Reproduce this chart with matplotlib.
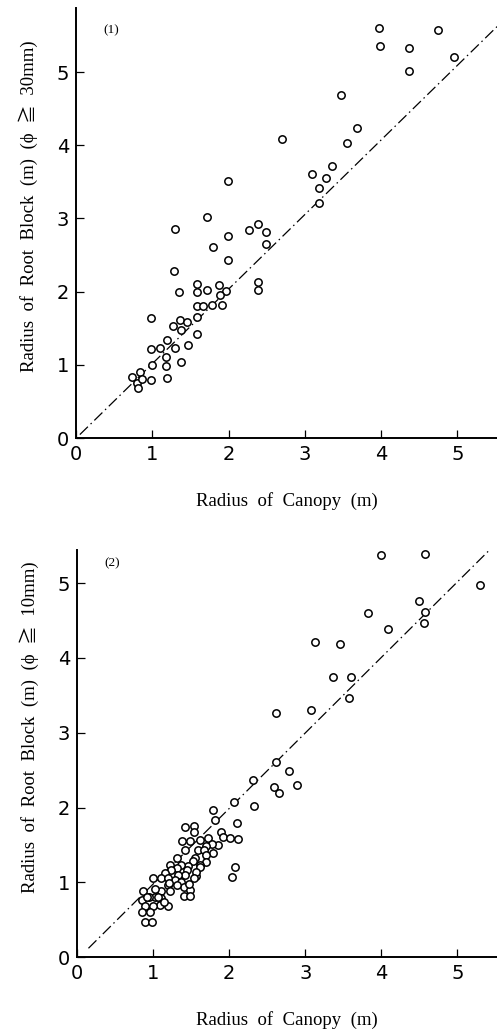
import matplotlib
matplotlib.use("Agg")
import matplotlib.pyplot as plt

# panel (1): phi >= 30mm
canopy_30 = [3.97, 3.98, 4.75, 4.37, 4.37, 4.96, 3.48, 3.68, 3.55, 2.70,
             3.36, 3.10, 3.28, 3.18, 3.18, 1.99, 1.72, 1.30, 1.99, 2.27,
             2.38, 2.49, 2.49, 1.80, 1.99, 1.29, 2.38, 2.38, 1.35, 1.58,
             1.58, 1.72, 1.88, 1.96, 1.89, 1.58, 1.66, 1.78, 1.91, 0.98,
             1.36, 1.45, 1.27, 1.37, 1.59, 1.59, 1.19, 0.98, 1.10, 1.30,
             1.47, 1.18, 0.99, 1.18, 1.38, 0.73, 0.84, 0.80, 0.87, 0.81,
             0.98, 1.19]
root_30 = [5.60, 5.36, 5.57, 5.33, 5.02, 5.20, 4.68, 4.23, 4.03, 4.09,
           3.72, 3.61, 3.55, 3.41, 3.21, 3.51, 3.02, 2.85, 2.76, 2.84,
           2.93, 2.82, 2.65, 2.61, 2.44, 2.29, 2.13, 2.03, 1.99, 2.11,
           1.99, 2.02, 2.09, 2.01, 1.95, 1.81, 1.81, 1.82, 1.82, 1.64,
           1.62, 1.59, 1.53, 1.48, 1.66, 1.42, 1.34, 1.22, 1.23, 1.23,
           1.27, 1.11, 1.00, 0.99, 1.04, 0.84, 0.90, 0.76, 0.81, 0.69,
           0.79, 0.82]

# panel (2): phi >= 10mm
canopy_10 = [4.00, 4.58, 5.30, 4.49, 4.58, 4.56, 3.83, 4.09, 3.13, 3.46,
             3.37, 3.60, 3.57, 2.62, 3.07, 2.61, 2.79, 2.31, 2.59, 2.89,
             2.65, 2.32, 2.06, 1.79, 1.81, 2.10, 1.89, 1.92, 2.01, 2.11,
             2.08, 2.04,
             1.42, 1.54, 1.54, 1.38, 1.48, 1.62, 1.72, 1.85, 1.78, 1.69,
             1.59, 1.42, 1.67, 1.79, 1.70, 1.32, 1.55, 1.53, 1.70, 1.61,
             1.46, 1.37, 1.22, 1.31, 1.23, 1.44, 1.56, 1.42, 1.33, 1.29,
             1.37, 1.15, 1.10, 1.00, 1.20, 1.20, 1.40, 1.48, 1.40, 1.49,
             1.22, 1.11, 1.02, 0.87, 1.02, 1.11, 0.94, 0.85, 1.20, 1.09,
             1.00, 0.89, 0.86, 0.96, 0.89, 0.99, 1.21, 1.31, 1.47, 1.14,
             0.92, 1.07, 1.61, 1.57, 1.54]
root_10 = [5.37, 5.39, 4.97, 4.76, 4.61, 4.47, 4.60, 4.38, 4.21, 4.18,
           3.75, 3.75, 3.46, 3.26, 3.30, 2.61, 2.49, 2.37, 2.27, 2.30,
           2.19, 2.02, 2.07, 1.97, 1.84, 1.79, 1.68, 1.61, 1.59, 1.58,
           1.20, 1.07,
           1.74, 1.76, 1.67, 1.56, 1.56, 1.57, 1.60, 1.50, 1.51, 1.49,
           1.43, 1.43, 1.43, 1.39, 1.36, 1.33, 1.33, 1.28, 1.27, 1.23,
           1.22, 1.23, 1.23, 1.19, 1.17, 1.16, 1.08, 1.10, 1.10, 1.03,
           1.01, 1.12, 1.06, 1.06, 1.06, 0.97, 0.94, 0.90, 0.82, 0.82,
           0.88, 0.88, 0.91, 0.88, 0.80, 0.79, 0.80, 0.77, 0.69, 0.70,
           0.68, 0.68, 0.61, 0.61, 0.47, 0.47, 0.99, 0.96, 0.98, 0.74,
           0.81, 0.81, 1.20, 1.14, 1.06]

# 1:1 reference lines
line1_x = [0.05, 5.55]
line1_y = [0.05, 5.65]
line2_x = [0.15, 5.42]
line2_y = [0.12, 5.44]

ylabels = ["Radius  of  Root  Block  (m)  (ϕ  ≧  30mm)",
           "Radius  of  Root  Block  (m)  (ϕ  ≧  10mm)"]
xlabel = "Radius  of  Canopy  (m)"

serif = ["Liberation Serif", "DejaVu Serif", "Noto Sans CJK JP"]

fig = plt.figure(figsize=(4.97, 10.36), dpi=100)
ax1 = fig.add_axes([0.153, 0.577, 0.847, 0.415])
ax2 = fig.add_axes([0.155, 0.076, 0.845, 0.393])

panels = [(ax1, canopy_30, root_30, line1_x, line1_y, 5.87, "(1)", ylabels[0], 0.54, 0.949),
          (ax2, canopy_10, root_10, line2_x, line2_y, 5.44, "(2)", ylabels[1], 0.565, 0.968)]

for ax, xs, ys, lx, ly, ytop, tag, ylab, ly_pos, tag_y in panels:
    ax.plot(lx, ly, color="black", lw=0.9, dashes=(9, 3, 1.2, 3))
    ax.plot(xs, ys, "o", ms=5.3, mfc="white", mec="black", mew=1.1, ls="none")
    ax.set_xlim(0, 5.52)
    ax.set_ylim(0, ytop)
    ax.set_xticks(range(6))
    ax.set_yticks(range(6))
    ax.spines["top"].set_visible(False)
    ax.spines["right"].set_visible(False)
    ax.spines["left"].set_linewidth(1.4)
    ax.spines["bottom"].set_linewidth(1.4)
    ax.tick_params(direction="in", length=6, width=0.9, labelsize=14, pad=5)
    ax.text(0.065, tag_y, tag, transform=ax.transAxes,
            family=serif, fontsize=9.5, va="center", ha="left")
    ax.set_xlabel(xlabel, family=serif, fontsize=13.5, labelpad=20)
    ax.set_ylabel(ylab, family=serif, fontsize=13.5)
    ax.yaxis.set_label_coords(-0.09, ly_pos)

fig.savefig("out.png", dpi=100)
